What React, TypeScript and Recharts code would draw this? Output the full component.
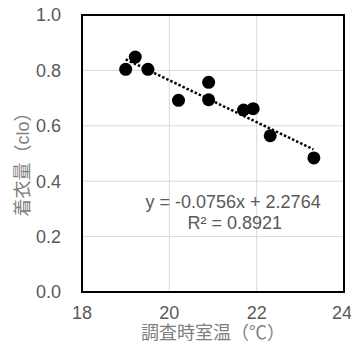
import {
  ScatterChart,
  Scatter,
  XAxis,
  YAxis,
  CartesianGrid,
  ReferenceArea,
  ReferenceLine,
  ReferenceDot,
  Label,
} from "recharts";

// 調査時室温 (℃) and 着衣量 (clo)
const roomTemp = [19.0, 19.22, 19.51, 20.21, 20.9, 20.9, 21.7, 21.92, 22.31, 23.31];
const clothing = [0.804, 0.848, 0.804, 0.692, 0.757, 0.694, 0.657, 0.662, 0.564, 0.484];

const xTicks = [18, 20, 22, 24];
const yTicks = [0, 0.2, 0.4, 0.6, 0.8, 1.0];

// linear trendline shown in the chart
const slope = -0.0756;
const intercept = 2.2764;
const trendRange = [19.0, 23.3];

const font = "'Liberation Sans', Arial, 'Noto Sans CJK JP', sans-serif";
const tickStyle = { fill: "#595959", fontSize: 18, fontFamily: font };

const data = roomTemp.map((t, i) => ({ x: t, y: clothing[i] }));
const trend = trendRange.map(x => ({ x, y: slope * x + intercept }));

const Dot = (props: any) => <circle cx={props.cx} cy={props.cy} r={6.5} fill="#000" />;

const YTitle = () => (
  <text
    x={23}
    y={160}
    transform="rotate(-90, 23, 160)"
    textAnchor="middle"
    dominantBaseline="central"
    fill="#7f7f7f"
    fontSize={18}
    fontFamily={font}
  >
    着衣量（clo）
  </text>
);

function App() {
  return (
    <div style={{ position: "absolute", left: 0, top: 0 }}>
      <ScatterChart width={351} height={342} margin={{ top: 15, right: 7, left: 0, bottom: 0 }}>
        <CartesianGrid stroke="#d9d9d9" strokeWidth={1} />
        <XAxis
          type="number"
          dataKey="x"
          domain={[18, 24]}
          ticks={xTicks}
          height={50}
          tickLine={false}
          axisLine={false}
          tickSize={0}
          tickMargin={14}
          tick={tickStyle}
        >
          <Label
            value="調査時室温（℃）"
            position="insideBottom"
            offset={3}
            style={{ fill: "#7f7f7f", fontSize: 18, fontFamily: font }}
          />
        </XAxis>
        <YAxis
          type="number"
          dataKey="y"
          domain={[0, 1]}
          ticks={yTicks}
          width={82}
          tickLine={false}
          axisLine={false}
          tickSize={0}
          tickMargin={21}
          tickFormatter={(v: number) => v.toFixed(1)}
          tick={tickStyle}
        >
          <Label content={<YTitle />} />
        </YAxis>
        <ReferenceArea x1={18} x2={24} y1={0} y2={1} fill="none" stroke="#000" strokeWidth={2} />
        <Scatter data={data} fill="#000" shape={Dot} isAnimationActive={false} />
        <ReferenceLine
          segment={trend}
          stroke="#000"
          strokeWidth={2.5}
          strokeDasharray="2.5 2"
        />
        <ReferenceDot x={21.46} y={0.325} r={0} fill="none" stroke="none">
          <Label
            value="y = -0.0756x + 2.2764"
            position="center"
            style={{ fill: "#595959", fontSize: 18, fontFamily: font }}
          />
        </ReferenceDot>
        <ReferenceDot x={21.5} y={0.25} r={0} fill="none" stroke="none">
          <Label
            value="R² = 0.8921"
            position="center"
            style={{ fill: "#595959", fontSize: 18, fontFamily: font }}
          />
        </ReferenceDot>
      </ScatterChart>
    </div>
  );
}

export default App;
